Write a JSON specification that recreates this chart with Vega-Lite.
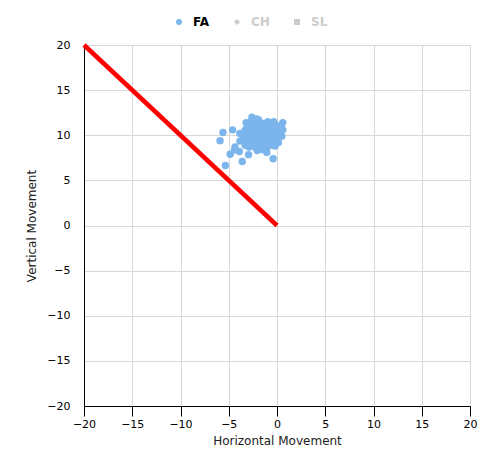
{
  "$schema": "https://vega.github.io/schema/vega-lite/v6.json",
  "width": 386,
  "height": 361,
  "autosize": {"type": "none"},
  "padding": {"left": 84, "top": 45, "right": 20, "bottom": 50},
  "background": "#ffffff",
  "config": {
    "view": {"stroke": null},
    "font": "DejaVu Sans",
    "axis": {
      "gridColor": "#d8d8d8",
      "gridWidth": 1,
      "domainColor": "#000000",
      "domainWidth": 1,
      "labelFont": "DejaVu Sans",
      "labelFontSize": 11,
      "labelColor": "#000000",
      "titleFont": "DejaVu Sans",
      "titleFontSize": 12,
      "titleFontWeight": "normal",
      "titleColor": "#222222"
    }
  },
  "datasets": {
    "pitches": [
      {"series": "FA", "h": -5.35, "v": 6.65},
      {"series": "FA", "h": -5.9, "v": 9.4},
      {"series": "FA", "h": -5.6, "v": 10.3},
      {"series": "FA", "h": -4.6, "v": 10.6},
      {"series": "FA", "h": -4.85, "v": 7.9},
      {"series": "FA", "h": -4.35, "v": 8.7},
      {"series": "FA", "h": -4.4, "v": 8.4},
      {"series": "FA", "h": -3.9, "v": 8.2},
      {"series": "FA", "h": -3.6, "v": 7.1},
      {"series": "FA", "h": -2.95, "v": 7.85},
      {"series": "FA", "h": -3.85, "v": 9.35},
      {"series": "FA", "h": -3.85, "v": 10.2},
      {"series": "FA", "h": -3.2, "v": 11.4},
      {"series": "FA", "h": -2.6, "v": 12.0},
      {"series": "FA", "h": -2.1, "v": 11.8},
      {"series": "FA", "h": -1.4, "v": 11.3},
      {"series": "FA", "h": -0.55, "v": 11.2},
      {"series": "FA", "h": 0.6, "v": 11.4},
      {"series": "FA", "h": 0.6, "v": 10.6},
      {"series": "FA", "h": 0.5, "v": 9.9},
      {"series": "FA", "h": -0.4, "v": 7.4},
      {"series": "FA", "h": -1.05, "v": 8.1},
      {"series": "FA", "h": -3.4, "v": 9.8},
      {"series": "FA", "h": -3.2, "v": 10.3},
      {"series": "FA", "h": -3.0, "v": 9.5},
      {"series": "FA", "h": -3.1, "v": 10.8},
      {"series": "FA", "h": -2.9, "v": 10.1},
      {"series": "FA", "h": -2.8, "v": 9.2},
      {"series": "FA", "h": -2.7, "v": 10.6},
      {"series": "FA", "h": -2.6, "v": 9.8},
      {"series": "FA", "h": -2.5, "v": 11.2},
      {"series": "FA", "h": -2.5, "v": 8.9},
      {"series": "FA", "h": -2.4, "v": 10.3},
      {"series": "FA", "h": -2.3, "v": 9.5},
      {"series": "FA", "h": -2.2, "v": 10.9},
      {"series": "FA", "h": -2.2, "v": 8.6},
      {"series": "FA", "h": -2.1, "v": 10.0},
      {"series": "FA", "h": -2.0, "v": 9.3},
      {"series": "FA", "h": -2.0, "v": 11.4},
      {"series": "FA", "h": -1.9, "v": 10.5},
      {"series": "FA", "h": -1.8, "v": 9.0},
      {"series": "FA", "h": -1.8, "v": 9.8},
      {"series": "FA", "h": -1.7, "v": 10.8},
      {"series": "FA", "h": -1.6, "v": 8.5},
      {"series": "FA", "h": -1.6, "v": 10.2},
      {"series": "FA", "h": -1.5, "v": 9.5},
      {"series": "FA", "h": -1.5, "v": 11.0},
      {"series": "FA", "h": -1.4, "v": 8.9},
      {"series": "FA", "h": -1.3, "v": 10.4},
      {"series": "FA", "h": -1.3, "v": 9.9},
      {"series": "FA", "h": -1.2, "v": 9.2},
      {"series": "FA", "h": -1.1, "v": 10.7},
      {"series": "FA", "h": -1.0, "v": 9.6},
      {"series": "FA", "h": -1.0, "v": 8.7},
      {"series": "FA", "h": -0.9, "v": 10.1},
      {"series": "FA", "h": -0.8, "v": 11.0},
      {"series": "FA", "h": -0.8, "v": 9.3},
      {"series": "FA", "h": -0.7, "v": 10.5},
      {"series": "FA", "h": -0.6, "v": 9.8},
      {"series": "FA", "h": -0.5, "v": 8.9},
      {"series": "FA", "h": -0.4, "v": 10.2},
      {"series": "FA", "h": -0.3, "v": 10.8},
      {"series": "FA", "h": -0.3, "v": 9.4},
      {"series": "FA", "h": -0.2, "v": 10.0},
      {"series": "FA", "h": -0.1, "v": 11.1},
      {"series": "FA", "h": 0.0, "v": 9.6},
      {"series": "FA", "h": 0.1, "v": 10.4},
      {"series": "FA", "h": 0.2, "v": 10.9},
      {"series": "FA", "h": 0.3, "v": 10.1},
      {"series": "FA", "h": 0.4, "v": 10.6},
      {"series": "FA", "h": -3.3, "v": 8.9},
      {"series": "FA", "h": -3.5, "v": 9.5},
      {"series": "FA", "h": -2.9, "v": 8.7},
      {"series": "FA", "h": -2.4, "v": 11.6},
      {"series": "FA", "h": -1.9, "v": 11.7},
      {"series": "FA", "h": -2.7, "v": 11.5},
      {"series": "FA", "h": -1.2, "v": 11.2},
      {"series": "FA", "h": -0.6, "v": 11.3},
      {"series": "FA", "h": -2.35, "v": 9.1},
      {"series": "FA", "h": -1.75, "v": 10.1},
      {"series": "FA", "h": -1.05, "v": 10.3},
      {"series": "FA", "h": -0.45, "v": 9.6},
      {"series": "FA", "h": 0.15, "v": 9.2},
      {"series": "FA", "h": -2.95, "v": 10.5},
      {"series": "FA", "h": -3.6, "v": 10.1},
      {"series": "FA", "h": -3.0, "v": 11.0},
      {"series": "FA", "h": -1.45, "v": 8.4},
      {"series": "FA", "h": -2.05, "v": 8.3},
      {"series": "FA", "h": -0.9, "v": 8.9},
      {"series": "FA", "h": -0.2, "v": 8.8},
      {"series": "FA", "h": -1.3, "v": 9.5},
      {"series": "FA", "h": -2.55, "v": 10.0},
      {"series": "FA", "h": -1.65, "v": 9.7},
      {"series": "FA", "h": -0.75, "v": 10.0},
      {"series": "FA", "h": -0.05, "v": 10.3},
      {"series": "FA", "h": 0.45, "v": 11.0},
      {"series": "FA", "h": -2.15, "v": 9.7},
      {"series": "FA", "h": -1.1, "v": 9.9},
      {"series": "FA", "h": -1.55, "v": 10.6},
      {"series": "FA", "h": -2.75, "v": 9.6},
      {"series": "FA", "h": -0.35, "v": 11.5},
      {"series": "FA", "h": -1.85, "v": 11.2},
      {"series": "FA", "h": -0.95, "v": 11.5},
      {"series": "FA", "h": -3.3, "v": 10.6},
      {"series": "FA", "h": -2.25, "v": 10.4},
      {"series": "FA", "h": -1.35, "v": 8.8},
      {"series": "FA", "h": -0.65, "v": 9.0}
    ],
    "line": [
      {"h": -20, "v": 20},
      {"h": 0, "v": 0}
    ]
  },
  "layer": [
    {
      "data": {"name": "pitches"},
      "mark": {"type": "point", "filled": true, "opacity": 1, "size": 55},
      "encoding": {
        "x": {
          "field": "h", "type": "quantitative",
          "scale": {"domain": [-20, 20], "nice": false, "zero": false},
          "axis": {
            "title": "Horizontal Movement",
            "values": [-20, -15, -10, -5, 0, 5, 10, 15, 20],
            "tickColor": "#000000",
            "tickSize": 10,
            "labelPadding": 2,
            "titlePadding": 6,
            "labelFlush": false
          }
        },
        "y": {
          "field": "v", "type": "quantitative",
          "scale": {"domain": [-20, 20], "nice": false, "zero": false},
          "axis": {
            "title": "Vertical Movement",
            "values": [-20, -15, -10, -5, 0, 5, 10, 15, 20],
            "ticks": false,
            "labelPadding": 14,
            "titlePadding": 8,
            "labelFlush": false
          }
        },
        "color": {
          "field": "series", "type": "nominal",
          "scale": {"domain": ["FA", "CH", "SL"], "range": ["#7cb5ec", "#cccccc", "#cccccc"]},
          "legend": {
            "title": null,
            "orient": "none",
            "direction": "horizontal",
            "legendX": 89,
            "legendY": -29,
            "padding": 0,
            "symbolSize": 36,
            "symbolStrokeWidth": 0,
            "labelFont": "DejaVu Sans",
            "labelFontSize": 12,
            "labelFontWeight": "bold",
            "labelOffset": 8,
            "columnPadding": 21,
            "labelColor": {"expr": "datum.value === 'FA' ? '#000000' : '#cccccc'"}
          }
        },
        "shape": {
          "field": "series", "type": "nominal",
          "scale": {"domain": ["FA", "CH", "SL"], "range": ["circle", "diamond", "square"]}
        }
      }
    },
    {
      "data": {"name": "line"},
      "mark": {"type": "line", "color": "#ff0000", "strokeWidth": 4.5},
      "encoding": {
        "x": {"field": "h", "type": "quantitative"},
        "y": {"field": "v", "type": "quantitative"}
      }
    }
  ]
}
